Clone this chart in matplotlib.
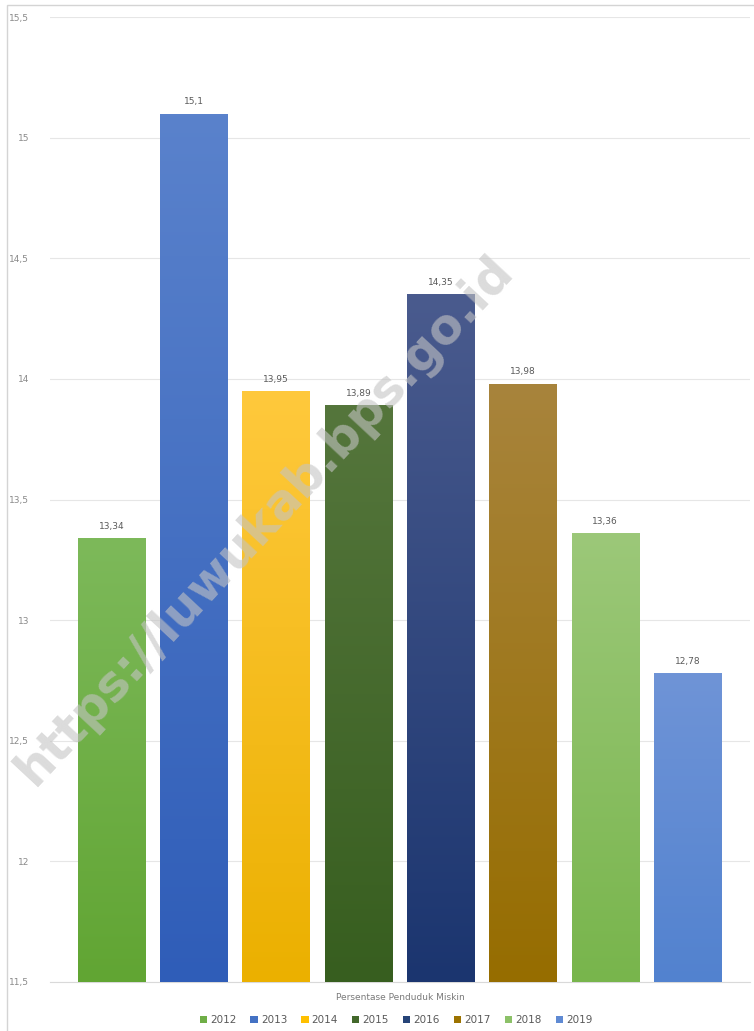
import numpy as np
import matplotlib
matplotlib.use("Agg")
import matplotlib.pyplot as plt
from matplotlib.colors import LinearSegmentedColormap
from matplotlib.patches import Rectangle, Patch

# Poverty rate (%) per year
years = ["2012", "2013", "2014", "2015", "2016", "2017", "2018", "2019"]
values = [13.34, 15.1, 13.95, 13.89, 14.35, 13.98, 13.36, 12.78]
value_labels = ["13,34", "15,1", "13,95", "13,89", "14,35", "13,98", "13,36", "12,78"]

y_ticks = [11.5, 12, 12.5, 13, 13.5, 14, 14.5, 15, 15.5]
y_tick_labels = ["11,5", "12", "12,5", "13", "13,5", "14", "14,5", "15", "15,5"]

category = "Persentase Penduduk Miskin"

# gradient colours per series (top, bottom)
top_colors = ["#7db95a", "#5a82cc", "#ffc93c", "#55763c", "#4a5b8e", "#a8843c", "#9cc879", "#6f94d7"]
bottom_colors = ["#61a533", "#2f5db8", "#ebb000", "#375e1f", "#1b356f", "#966d00", "#78b54c", "#5282cf"]
legend_colors = ["#6fae47", "#4472c4", "#ffc000", "#43682b", "#264478", "#9c7300", "#8cc168", "#5f8ad3"]

fig = plt.figure(figsize=(7.54, 10.31), dpi=100)
W, H = 754, 1031

ax = fig.add_axes([50 / W, 1 - 982 / H, 700 / W, (982 - 17) / H])
ax.set_ylim(11.5, 15.5)
ax.set_xlim(-0.747, 7.758)

ax.set_yticks(y_ticks)
ax.set_yticklabels(y_tick_labels, fontsize=6.5, color="#8a8a8a")
ax.tick_params(axis="y", length=0, pad=15)
ax.set_xticks([])
ax.yaxis.grid(True, color="#e6e6e6", linewidth=0.8)
ax.set_axisbelow(True)
for side in ("top", "right", "left"):
    ax.spines[side].set_visible(False)
ax.spines["bottom"].set_color("#d9d9d9")

x = np.arange(len(years))
width = 0.82
bars = ax.bar(x, [v - 11.5 for v in values], bottom=11.5, width=width,
              color=legend_colors, zorder=2)

for i, b in enumerate(bars):
    cmap = LinearSegmentedColormap.from_list(f"g{i}", [bottom_colors[i], top_colors[i]])
    grad = np.linspace(0, 1, 256).reshape(-1, 1)
    x0 = b.get_x()
    im = ax.imshow(grad, cmap=cmap, aspect="auto", origin="lower",
                   extent=[x0, x0 + b.get_width(), 11.5, values[i]], zorder=3)
    im.set_clip_path(b)
    ax.text(x[i], values[i] + 0.03, value_labels[i], ha="center", va="bottom",
            fontsize=6.5, color="#5a5a5a", zorder=4)

ax.set_xlim(-0.747, 7.758)
ax.set_ylim(11.5, 15.5)

fig.text(400 / W, 1 - 997 / H, category, ha="center", va="center",
         fontsize=6.5, color="#7a7a7a")

handles = [Patch(facecolor=c, edgecolor="none") for c in legend_colors]
fig.legend(handles, years, loc="center", bbox_to_anchor=(396 / W, 1 - 1020 / H),
           ncol=8, frameon=False, fontsize=7.5, handlelength=0.7, handleheight=0.7,
           handletextpad=0.3, columnspacing=1.35, labelcolor="#5a5a5a")

# chart frame
fig.add_artist(Rectangle((7 / W, -0.01), 1.0, 1 - 5 / H + 0.01, transform=fig.transFigure,
                         fill=False, edgecolor="#d4d4d4", linewidth=1.0))

# site watermark
fig.text(265 / W, 1 - 520 / H, "https://luwukab.bps.go.id", ha="center", va="center",
         rotation=47, fontsize=35, fontweight="bold", color="#c4c4c4", alpha=0.6,
         zorder=10)

fig.savefig("out.png", dpi=100, facecolor="white")
